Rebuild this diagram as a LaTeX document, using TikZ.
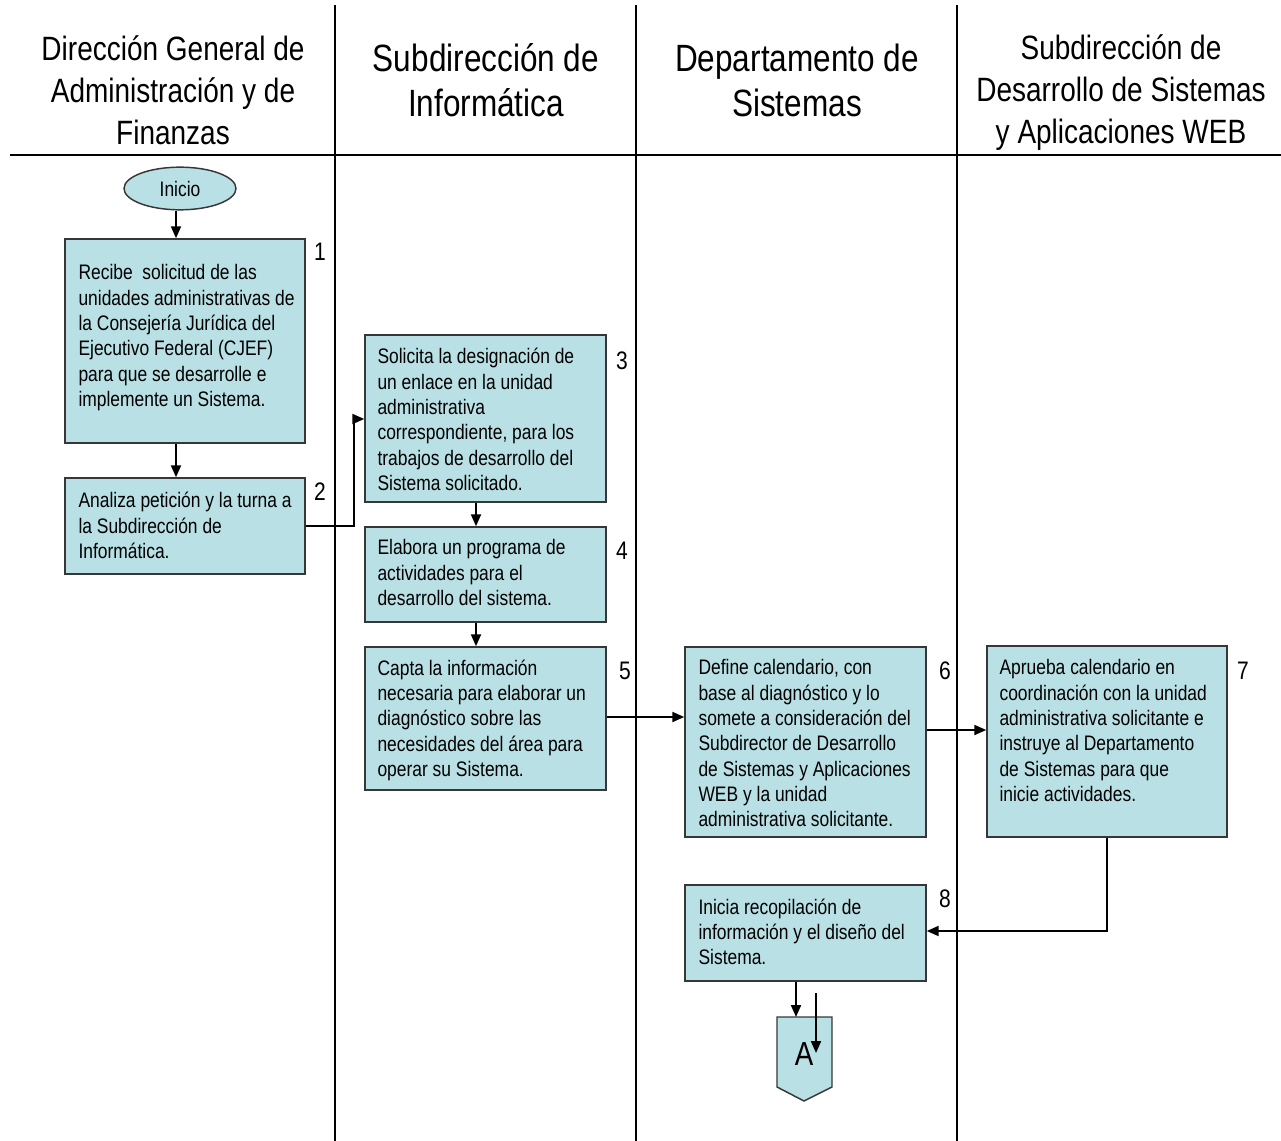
\documentclass[tikz,border=0pt]{standalone}
\usepackage{fontspec}
\setmainfont{Liberation Sans}[FakeStretch=0.83]
\usetikzlibrary{shapes.geometric,arrows.meta,fit,calc}
\definecolor{boxfill}{RGB}{185,224,228}
\definecolor{boxline}{RGB}{55,55,55}

\begin{document}
\begin{tikzpicture}[x=0.75pt,y=-0.75pt,
  lane/.style={line width=1.1pt},
  box/.style={draw=boxline,fill=boxfill,line width=1.1pt,inner sep=0pt},
  txt/.style={align=left,inner sep=0pt,anchor=north west,font=\fontsize{15.75}{19}\selectfont},
  num/.style={inner sep=0pt,font=\fontsize{19}{22}\selectfont},
  head/.style={align=center,inner sep=0pt,font=\fontsize{25.3}{31.5}\selectfont},
  headbig/.style={align=center,inner sep=0pt,font=\fontsize{28.5}{33.8}\selectfont},
  arr/.style={line width=1.5pt,-{Triangle[length=9pt,width=7.5pt]}}]

\useasboundingbox (0,0) rectangle (1281,1141);

% swimlane grid
\draw[line width=1.5pt] (10,155) -- (1281,155);
\draw[lane] (335,5) -- (335,1141);
\draw[lane] (636,5) -- (636,1141);
\draw[lane] (957,5) -- (957,1141);

% lane titles
\node[head] (h1) at (173,90) {Dirección General de\\Administración y de\\Finanzas};
\node[headbig] (h2) at (486,80.5) {Subdirección de\\Informática};
\node[headbig] (h3) at (797,80.5) {Departamento de\\Sistemas};
\node[head] (h4) at (1121,93) {Subdirección de\\Desarrollo de Sistemas\\y Aplicaciones WEB};

% start terminal
\node[box,ellipse,minimum width=84pt,minimum height=32pt,font=\fontsize{15.75}{19}\selectfont] (ini) at (180,188.5) {Inicio};

% process boxes
\node[box,fit={(65,239) (305,443)}] (b1) {};
\node[box,fit={(65,478) (305,574)}] (b2) {};
\node[box,fit={(365,335) (606,502)}] (b3) {};
\node[box,fit={(365,527) (606,622)}] (b4) {};
\node[box,fit={(365,647) (606,790)}] (b5) {};
\node[box,fit={(685,647) (926,837)}] (b6) {};
\node[box,fit={(987,646) (1227,837)}] (b7) {};
\node[box,fit={(685,885) (926,981)}] (b8) {};

% box texts
\node[txt] (t1) at ($(b1.north west)+(14,26)$) {Recibe\ \ solicitud de las\\unidades administrativas de\\la Consejería Jurídica del\\Ejecutivo Federal (CJEF)\\para que se desarrolle e\\implemente un Sistema.};
\node[txt] (t2) at ($(b2.north west)+(14,15)$) {Analiza petición y la turna a\\la Subdirección de\\Informática.};
\node[txt] (t3) at ($(b3.north west)+(13,14)$) {Solicita la designación de\\un enlace en la unidad\\administrativa\\correspondiente, para los\\trabajos de desarrollo del\\Sistema solicitado.};
\node[txt] (t4) at ($(b4.north west)+(13,13)$) {Elabora un programa de\\actividades para el\\desarrollo del sistema.};
\node[txt] (t5) at ($(b5.north west)+(13,13)$) {Capta la información\\necesaria para elaborar un\\diagnóstico sobre las\\necesidades del área para\\operar su Sistema.};
\node[txt] (t6) at ($(b6.north west)+(14,13)$) {Define calendario, con\\base al diagnóstico y lo\\somete a consideración del\\Subdirector de Desarrollo\\de Sistemas y Aplicaciones\\WEB y la unidad\\administrativa solicitante.};
\node[txt] (t7) at ($(b7.north west)+(13,14)$) {Aprueba calendario en\\coordinación con la unidad\\administrativa solicitante e\\instruye al Departamento\\de Sistemas para que\\inicie actividades.};
\node[txt] (t8) at ($(b8.north west)+(14,14)$) {Inicia recopilación de\\información y el diseño del\\Sistema.};

% step numbers
\node[num] (n1) at (320,252) {1};
\node[num] (n2) at (320,492) {2};
\node[num] (n3) at (622,361) {3};
\node[num] (n4) at (622,551) {4};
\node[num] (n5) at (625,671) {5};
\node[num] (n6) at (945,671) {6};
\node[num] (n7) at (1243,671) {7};
\node[num] (n8) at (945,899) {8};

% off-page connector
\draw[box] (777,1017) -- (832,1017) -- (832,1087) -- (804,1101) -- (777,1087) -- cycle;
\node[inner sep=0pt,font=\fontsize{25}{28}\selectfont] (A) at (804,1054) {A};

% routing columns and points
\coordinate (colA) at (176,0);
\coordinate (colB) at (476,0);
\coordinate (bend2) at (354,0);
\coordinate (bend7) at (1107,0);
\coordinate (Ain) at (796,1017);
\coordinate (s1) at (816,993);
\coordinate (s2) at (816,1053);
\coordinate (y23) at (0,526);
\coordinate (y3) at (0,419);
\coordinate (y56) at (0,717);
\coordinate (y67) at (0,730);
\coordinate (y78) at (0,931);

% connectors
\draw[arr] (ini.south -| colA) -- (b1.north -| colA);
\draw[arr] (b1.south -| colA) -- (b2.north -| colA);
\draw[arr] (b2.east |- y23) -| (bend2 |- y3) -- (b3.west |- y3);
\draw[arr] (b3.south -| colB) -- (b4.north -| colB);
\draw[arr] (b4.south -| colB) -- (b5.north -| colB);
\draw[arr] (b5.east |- y56) -- (b6.west |- y56);
\draw[arr] (b6.east |- y67) -- (b7.west |- y67);
\draw[arr] (b7.south -| bend7) |- (b8.east |- y78);
\draw[arr] (Ain |- b8.south) -- (Ain);
\draw[arr] (s1) -- (s2);

\end{tikzpicture}
\end{document}
